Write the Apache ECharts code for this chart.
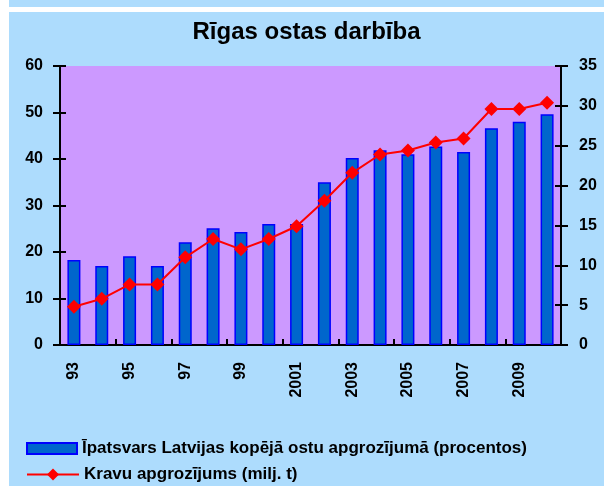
<!DOCTYPE html>
<html>
<head>
<meta charset="utf-8">
<script src="https://cdn.jsdelivr.net/npm/echarts@6/dist/echarts.min.js"></script>
<style>
    html, body { margin: 0; padding: 0; background: #fff; }
    #wrap { position: relative; width: 604px; height: 486px; }
    #band { position: absolute; left: 9px; top: 0; width: 595px; height: 7px; background: #addcfd; }
    #chart { position: absolute; left: 9px; top: 12px; width: 595px; height: 474px; }
</style>
</head>
<body>
<div id="wrap">
    <div id="band"></div>
    <div id="chart"></div>
</div>
<script>
const years = ["93", "94", "95", "96", "97", "98", "99", "2000", "2001", "2002",
    "2003", "2004", "2005", "2006", "2007", "2008", "2009", "2010"];
const sharePct = [18.3, 17.0, 19.1, 17.0, 22.1, 25.1, 24.3, 26.0, 26.0, 35.0,
    40.2, 41.9, 41.0, 42.7, 41.5, 46.6, 48.0, 49.6];
const cargoMt = [4.8, 5.8, 7.6, 7.6, 11.0, 13.3, 12.0, 13.3, 14.9, 18.1,
    21.6, 23.9, 24.4, 25.4, 25.9, 29.6, 29.6, 30.4];
const barName = "Īpatsvars Latvijas kopējā ostu apgrozījumā (procentos)";
const lineName = "Kravu apgrozījums (milj. t)";

const font = "Arial, 'Liberation Sans', sans-serif";
const labelStyle = { color: "#000", fontWeight: "bold", fontSize: 16, fontFamily: font };
const legendText = { color: "#000", fontWeight: "bold", fontSize: 17, fontFamily: font };

const chart = echarts.init(document.getElementById("chart"));

// hidden copies of the axes only to draw the inner half of the crossing ticks
const innerTicks = { show: true, inside: true, length: 6, lineStyle: { color: "#000", width: 2 } };

const option = {
    backgroundColor: "#addcfd",
    animation: false,
    title: {
        text: "Rīgas ostas darbība",
        left: "center",
        top: 3,
        textStyle: { color: "#000", fontSize: 24, fontWeight: "bold", fontFamily: font }
    },
    grid: { left: 51, right: 43, top: 54, bottom: 141, backgroundColor: "#cc99ff", show: true, borderWidth: 0 },
    legend: [
        {
            data: [{ name: barName, icon: "rect" }],
            left: 12,
            top: 423,
            itemWidth: 50,
            itemHeight: 11,
            itemGap: 6,
            textStyle: legendText
        },
        {
            data: [lineName],
            left: 12,
            top: 449,
            itemWidth: 52,
            itemHeight: 15,
            itemGap: 6,
            textStyle: legendText
        }
    ],
    xAxis: [
        {
            type: "category",
            data: years,
            axisLine: { lineStyle: { color: "#000", width: 2 } },
            axisTick: { length: 7, lineStyle: { color: "#000", width: 2 } },
            axisLabel: Object.assign({ rotate: 90, interval: 1, margin: 17 }, labelStyle)
        },
        {
            type: "category",
            data: years,
            position: "bottom",
            axisLine: { show: false },
            axisTick: innerTicks,
            axisLabel: { show: false }
        }
    ],
    yAxis: [
        {
            type: "value",
            min: 0, max: 60, interval: 10,
            splitLine: { show: false },
            axisLine: { show: true, lineStyle: { color: "#000", width: 2 } },
            axisTick: { show: true, length: 7, lineStyle: { color: "#000", width: 2 } },
            axisLabel: Object.assign({ margin: 17 }, labelStyle)
        },
        {
            type: "value",
            min: 0, max: 35, interval: 5,
            position: "right",
            splitLine: { show: false },
            axisLine: { show: true, lineStyle: { color: "#000", width: 2 } },
            axisTick: { show: true, length: 7, lineStyle: { color: "#000", width: 2 } },
            axisLabel: Object.assign({ margin: 18 }, labelStyle)
        },
        {
            type: "value",
            min: 0, max: 60, interval: 10,
            position: "left",
            splitLine: { show: false },
            axisLine: { show: false },
            axisTick: innerTicks,
            axisLabel: { show: false }
        },
        {
            type: "value",
            min: 0, max: 35, interval: 5,
            position: "right",
            splitLine: { show: false },
            axisLine: { show: false },
            axisTick: innerTicks,
            axisLabel: { show: false }
        }
    ],
    series: [
        {
            name: barName,
            type: "bar",
            data: sharePct,
            barWidth: 13,
            itemStyle: { color: "#0066cc", borderColor: "#0000ff", borderWidth: 1.5 }
        },
        {
            name: lineName,
            type: "line",
            yAxisIndex: 1,
            data: cargoMt,
            symbol: "diamond",
            symbolSize: 14,
            lineStyle: { color: "#ff0000", width: 2 },
            itemStyle: { color: "#ff0000" }
        }
    ]
};

chart.setOption(option);
</script>
</body>
</html>
